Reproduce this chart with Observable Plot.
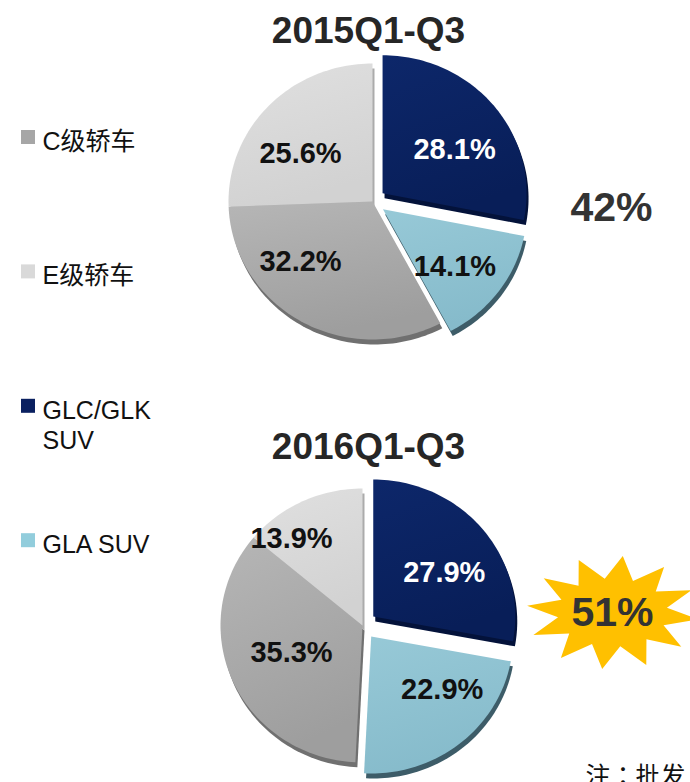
<!DOCTYPE html>
<html><head><meta charset="utf-8">
<script src="https://cdn.jsdelivr.net/npm/d3@7"></script>
<script src="https://cdn.jsdelivr.net/npm/@observablehq/plot@0.6"></script>
<style>
html,body{margin:0;padding:0;background:#fff;overflow:hidden;width:690px;height:782px;}
svg{display:block;}
g[aria-label='note-text'] text{letter-spacing:4px;}
</style>
</head><body><div id="chart"></div>
<script>
// ---- data ----
const categories = ["C级轿车", "E级轿车", "GLC/GLK SUV", "GLA SUV"];
const legendLabels = ["C级轿车", "E级轿车", "GLC/GLK\nSUV", "GLA SUV"];
const periods = ["2015Q1-Q3", "2016Q1-Q3"];
const share2015 = [32.2, 25.6, 28.1, 14.1];
const share2016 = [35.3, 13.9, 27.9, 22.9];
const suvTotals = ["42%", "51%"];
const note = "注：批发";

// ---- styles / layout ----
const sliceOrder = ["GLC/GLK SUV", "GLA SUV", "C级轿车", "E级轿车"];
const exploded = ["GLC/GLK SUV", "GLA SUV"];
const gradStops = {
  "C级轿车": ["#b6b6b6", "#9e9e9e"],
  "E级轿车": ["#e0e0e0", "#d2d2d2"],
  "GLC/GLK SUV": ["#0d276a", "#081e58"],
  "GLA SUV": ["#97c9d7", "#86bbcb"]
};
const gradIds = {"C级轿车": "gC", "E级轿车": "gE", "GLC/GLK SUV": "gGLC", "GLA SUV": "gGLA"};
const shadowColors = {"C级轿车": "#707070", "E级轿车": "#ababab", "GLC/GLK SUV": "#03123a", "GLA SUV": "#3d5c68"};
const legendColors = {"C级轿车": "#a6a6a6", "E级轿车": "#d9d9d9", "GLC/GLK SUV": "#0a2060", "GLA SUV": "#92cddc"};
const labelColors = {"C级轿车": "#111", "E级轿车": "#111", "GLC/GLK SUV": "#fff", "GLA SUV": "#111"};
const FONT = "'Liberation Sans', Arial, 'Noto Sans CJK SC', sans-serif";

const pies = [
  {period: periods[0], values: share2015, total: suvTotals[0], cx: 372, cy: 201, rx: 144, ry: 138, off: 13, titleX: 368, titleY: 31, totalX: 611, totalY: 207, star: false},
  {period: periods[1], values: share2016, total: suvTotals[1], cx: 362, cy: 625, rx: 142, ry: 137, off: 14, titleX: 368, titleY: 447, totalX: 612, totalY: 612, star: true}
];

const W = 690, H = 782;
const sliceRows = [], shadowRows = [], labelRows = [], titleRows = [], totalRows = [], starRows = [];

pies.forEach((pie) => {
  const sum = d3.sum(pie.values);
  let acc = 0;
  sliceOrder.forEach(cat => {
    const i = categories.indexOf(cat);
    const v = pie.values[i];
    const a0 = acc / sum * 2 * Math.PI, a1 = (acc + v) / sum * 2 * Math.PI;
    acc += v;
    const mid = (a0 + a1) / 2;
    const off = exploded.includes(cat) ? pie.off : 0;
    const ox = pie.cx + off * Math.sin(mid), oy = pie.cy - off * Math.cos(mid);
    const key = pie.period + cat;
    const n = Math.max(2, Math.ceil((a1 - a0) / (Math.PI / 120)));
    const pts = [[ox, oy]];
    for (let k = 0; k <= n; k++) {
      const a = a0 + (a1 - a0) * k / n;
      pts.push([ox + pie.rx * Math.sin(a), oy - pie.ry * Math.cos(a)]);
    }
    pts.push([ox, oy]);
    pts.forEach(([x, y]) => {
      sliceRows.push({key, x, y, fill: `url(#${gradIds[cat]})`});
      shadowRows.push({key, x: x + 2, y: y + 5, fill: shadowColors[cat]});
    });
    const sx = Math.sin(mid) >= 0 ? 1 : -1;
    const k = v < 15 ? 0.7 : 0.5;
    labelRows.push({x: ox + sx * 0.5 * pie.rx, y: oy - k * pie.ry * Math.cos(mid), text: v.toFixed(1) + "%", color: labelColors[cat]});
  });
  titleRows.push({x: pie.titleX, y: pie.titleY, text: pie.period});
  totalRows.push({x: pie.totalX, y: pie.totalY, text: pie.total});
  if (pie.star) {
    const spikes = 12, rxo = 86, ryo = 57, rxi = 55, ryi = 34;
    for (let k = 0; k <= spikes * 2; k++) {
      const a = k / (spikes * 2) * 2 * Math.PI + 0.12;
      const out = k % 2 === 0;
      starRows.push({x: pie.totalX + (out ? rxo : rxi) * Math.cos(a), y: pie.totalY + (out ? ryo : ryi) * Math.sin(a)});
    }
  }
});

const legendRows = categories.map((c, i) => ({cat: c, label: legendLabels[i], y: 137 + i * 134.4, color: legendColors[c]}));

const chart = Plot.plot({
  width: W, height: H,
  margin: 0,
  x: {domain: [0, W], range: [0, W], axis: null},
  y: {domain: [0, H], range: [0, H], axis: null},
  color: {type: "identity"},
  style: {fontFamily: FONT, background: "#fff", overflow: "hidden"},
  marks: [
    Plot.line(shadowRows, {x: "x", y: "y", z: "key", fill: "fill", stroke: null, curve: "linear"}),
    Plot.line(sliceRows, {x: "x", y: "y", z: "key", fill: "fill", stroke: null, curve: "linear"}),
    Plot.text(labelRows, {x: "x", y: "y", text: "text", fill: "color", fontSize: 29, fontWeight: "bold"}),
    Plot.text(titleRows, {x: "x", y: "y", text: "text", fill: "#262626", fontSize: 37, fontWeight: "bold", ariaLabel: "title-text"}),
    Plot.line(starRows, {x: "x", y: "y", fill: "#ffc000", stroke: null}),
    Plot.text(totalRows, {x: "x", y: "y", text: "text", fill: "#333", fontSize: 41, fontWeight: "bold", ariaLabel: "total-text"}),
    Plot.rect(legendRows, {x1: 21, x2: 35, y1: d => d.y - 7, y2: d => d.y + 7, fill: "color"}),
    Plot.text(legendRows, {x: 42, y: d => d.y - 9, text: "label", textAnchor: "start", lineAnchor: "top", lineHeight: 1.2, fill: "#111", fontSize: 25}),
    Plot.text([note], {x: 585, y: 784, text: d => d, textAnchor: "start", lineAnchor: "bottom", fill: "#111", fontSize: 25, ariaLabel: "note-text", fontFamily: "'Noto Sans CJK TC', 'Noto Sans CJK SC', sans-serif"})
  ]
});

// gradients and text shadows
const svg = d3.select(chart);
const defs = svg.insert("defs", ":first-child");
Object.entries(gradStops).forEach(([cat, [c0, c1]]) => {
  const g = defs.append("linearGradient").attr("id", gradIds[cat]).attr("x1", 0).attr("y1", 0).attr("x2", 0.3).attr("y2", 1);
  g.append("stop").attr("offset", "0%").attr("stop-color", c0);
  g.append("stop").attr("offset", "100%").attr("stop-color", c1);
});
const f = defs.append("filter").attr("id", "tshadow").attr("x", "-20%").attr("y", "-40%").attr("width", "140%").attr("height", "180%");
f.append("feDropShadow").attr("dx", 2).attr("dy", 2).attr("stdDeviation", 1.6).attr("flood-color", "#000").attr("flood-opacity", 0.35);
svg.selectAll("g[aria-label='title-text'], g[aria-label='total-text']").attr("filter", "url(#tshadow)");

document.getElementById("chart").appendChild(chart);
</script>
</body></html>
